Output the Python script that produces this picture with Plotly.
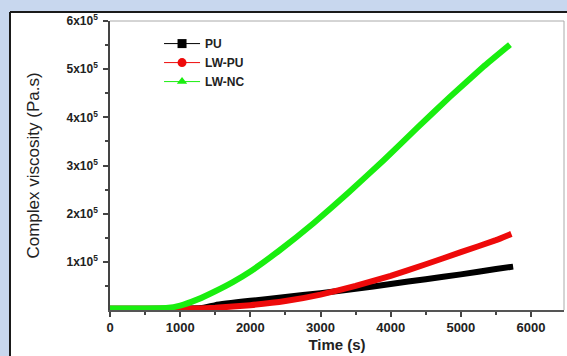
import plotly.graph_objects as go

# Data, viscosity in Pa.s
t_pu = [0, 500, 1000, 1300, 1500, 2000, 2500, 3000, 3500, 4000, 4500, 5000, 5500, 5745]
v_pu = [2500, 2500, 2600, 4000, 10000, 19000, 27000, 35000, 44000, 54000, 64000, 74000, 85000, 90000]

t_lwpu = [0, 500, 1000, 1200, 1500, 2000, 2500, 3000, 3500, 4000, 4500, 5000, 5500, 5720]
v_lwpu = [2500, 2500, 2600, 3000, 4500, 10000, 18500, 32000, 50000, 71000, 95000, 120000, 145000, 158000]

t_lwnc = [0, 500, 800, 1000, 1250, 1500, 1750, 2000, 2400, 2900, 3400, 3900, 4370, 4840, 5320, 5700]
v_lwnc = [3000, 3000, 4000, 9000, 22000, 39000, 58000, 80000, 122000, 180000, 244000, 311000, 377000, 442000, 505000, 551000]

y_tickvals = [100000, 200000, 300000, 400000, 500000, 600000]
y_ticktext = ["1x10<sup>5</sup>", "2x10<sup>5</sup>", "3x10<sup>5</sup>",
              "4x10<sup>5</sup>", "5x10<sup>5</sup>", "6x10<sup>5</sup>"]
y_minor = [50000, 150000, 250000, 350000, 450000, 550000]
x_tickvals = [0, 1000, 2000, 3000, 4000, 5000, 6000]

names = ["PU", "LW-PU", "LW-NC"]
colors = ["#000000", "#ee0a0a", "#19ee0f"]
symbols = ["square", "circle", "triangle-up"]

fig = go.Figure()
for t, v, c in [(t_pu, v_pu, colors[0]), (t_lwpu, v_lwpu, colors[1]), (t_lwnc, v_lwnc, colors[2])]:
    fig.add_trace(go.Scatter(x=t, y=v, mode="lines", line=dict(color=c, width=6, shape="spline", smoothing=0.3),
                             showlegend=False, hoverinfo="skip"))
for n, c, s in zip(names, colors, symbols):
    fig.add_trace(go.Scatter(x=[None], y=[None], mode="lines+markers", name=n,
                             line=dict(color=c, width=1), marker=dict(color=c, symbol=s, size=9)))

ml, mr, mt, mb = 110, 3, 21, 46
W, H = 567, 356
pw, ph = W - ml - mr, H - mt - mb

def px(x):
    return (x - ml) / pw

def py(y):
    return (H - mb - y) / ph

shapes = [
    dict(type="rect", xref="paper", yref="paper", x0=px(10), x1=px(570), y0=py(360), y1=py(12),
         fillcolor="white", line=dict(width=0), layer="below"),
    dict(type="line", xref="paper", yref="paper", x0=px(10), x1=px(10), y0=py(360), y1=py(12),
         line=dict(color="#1a1a1a", width=2)),
    dict(type="line", xref="paper", yref="paper", x0=px(10), x1=px(570), y0=py(12), y1=py(12),
         line=dict(color="#1a1a1a", width=2)),
    dict(type="line", xref="paper", yref="paper", x0=0, x1=1, y0=1, y1=1,
         line=dict(color="#aaaaaa", width=1)),
    dict(type="line", xref="paper", yref="paper", x0=1, x1=1, y0=0, y1=1,
         line=dict(color="#aaaaaa", width=1)),
]

fig.update_layout(
    width=W, height=H,
    margin=dict(l=ml, r=mr, t=mt, b=mb, autoexpand=False),
    paper_bgcolor="#c8d7ee",
    plot_bgcolor="white",
    font=dict(family="Liberation Sans, Arial, sans-serif", color="#222222"),
    shapes=shapes,
    showlegend=True,
    legend=dict(x=0.108, y=0.972, xanchor="left", yanchor="top", bgcolor="rgba(0,0,0,0)",
                font=dict(size=12, weight="bold"), tracegroupgap=0, itemwidth=36),
    xaxis=dict(range=[0, 6470], tickvals=x_tickvals, ticks="outside", ticklen=5, tickwidth=1.5,
               tickcolor="#444444", showline=True, linecolor="#555555", linewidth=1.5,
               showgrid=False, zeroline=False, automargin=False,
               tickfont=dict(size=13, weight="bold"),
               minor=dict(tickvals=[500, 1500, 2500, 3500, 4500, 5500], ticks="outside", ticklen=3,
                          tickcolor="#444444", showgrid=False),
               title=dict(text="Time (s)", font=dict(size=15, weight="bold"), standoff=5)),
    yaxis=dict(range=[0, 600000], tickvals=y_tickvals, ticktext=y_ticktext, ticks="outside",
               ticklen=5, tickwidth=1.5, tickcolor="#444444", showline=True, linecolor="#444444",
               linewidth=1.5, showgrid=False, zeroline=False, automargin=False,
               tickfont=dict(size=12, weight="bold"), ticklabelstandoff=3,
               minor=dict(tickvals=y_minor, ticks="outside", ticklen=3, tickcolor="#444444", showgrid=False),
               title=dict(text="Complex viscosity (Pa.s)", font=dict(size=17), standoff=23)),
)

fig.write_html("out.html", config={"displayModeBar": False},
               post_script="document.body.style.margin='0';document.body.style.overflow='hidden';")
